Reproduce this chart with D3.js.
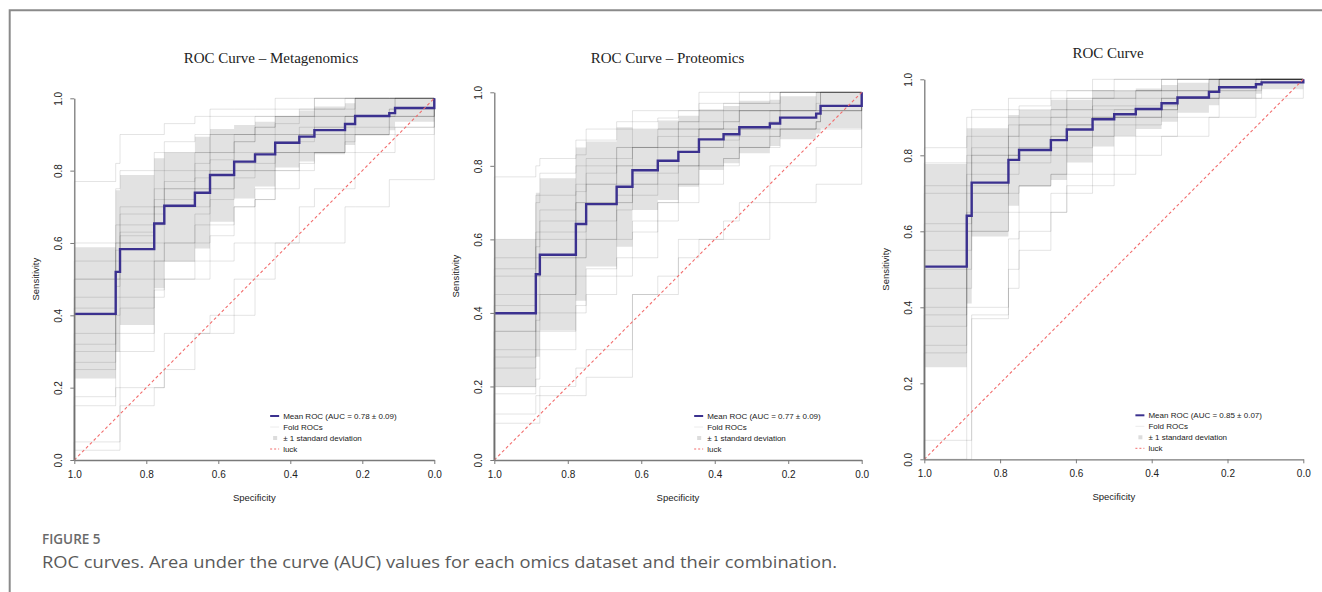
<!DOCTYPE html>
<html lang="en">
<head>
<meta charset="utf-8">
<title>ROC curves</title>
<script src="https://d3js.org/d3.v7.min.js"></script>
<style>
  body { margin: 0; background: #fff; }
  svg { display: block; }
  .tick text { font-family: 'Liberation Sans', Arial, sans-serif; }
</style>
</head>
<body>
<div id="chart"></div>
<script>

// ---- data: Metagenomics ----
var specMeta  = [1, .885, .873, .778, .75, .665, .623, .556, .498, .442, .375, .333, .248, .22, .125, .109];
var meanMeta  = [.404, .52, .583, .654, .703, .739, .788, .825, .845, .877, .894, .912, .929, .951, .959, .973];
var lowMeta   = [.225, .30, .373, .475, .548, .585, .659, .723, .756, .809, .825, .845, .871, .897, .912, .935];
var highMeta  = [.588, .746, .788, .834, .85, .894, .915, .926, .935, .951, .966, .977, .986, 1, 1, 1];
var foldsMeta = [
  [.05, .05, .2, .2, .35, .35, .4, .4, .6, .6, .6, .6, .7, .7, .775, .775],
  [.027, .027, .15, .2, .25, .35, .35, .5, .5, .6, .7, .75, .75, .85, .85, .9],
  [.175, .3, .3, .47, .5, .5, .55, .6, .72, .75, .8, .85, .85, .9, .9, .92],
  [.3, .45, .5, .55, .6, .65, .75, .8, .8, .85, .85, .85, .9, .9, .95, .95],
  [.35, .5, .6, .65, .7, .7, .75, .8, .85, .9, .9, .95, .95, 1, 1, 1],
  [.4, .5, .55, .6, .7, .75, .8, .85, .85, .85, .9, .9, .95, .95, .95, .95],
  [.45, .55, .6, .7, .75, .8, .85, .88, .9, .9, .92, .92, .92, .95, .97, 1],
  [.5, .6, .65, .75, .8, .85, .9, .9, .95, .95, .95, .95, .95, 1, 1, 1],
  [.55, .65, .7, .8, .85, .85, .9, .9, .92, .95, .95, .97, 1, 1, 1, 1],
  [.6, .75, .8, .85, .88, .9, .95, .95, .95, .97, .97, 1, 1, 1, 1, 1],
  [.77, .82, .9, .9, .93, .95, .97, .97, .97, 1, 1, 1, 1, 1, 1, 1],
  [.27, .4, .45, .5, .55, .6, .65, .7, .72, .8, .85, .85, .9, .9, .92, .92],
  [.32, .48, .62, .68, .72, .75, .8, .82, .82, .88, .9, .92, .95, .95, .95, 1],
  [.15, .2, .35, .45, .5, .55, .62, .7, .75, .8, .82, .85, .88, .92, .95, .95],
  [.42, .58, .63, .7, .75, .78, .83, .88, .9, .93, .95, .97, .97, 1, 1, 1],
  [.25, .35, .42, .55, .6, .68, .72, .78, .8, .85, .88, .9, .93, .95, .97, .97],
  [.5, .6, .68, .72, .77, .82, .85, .9, .92, .95, .97, 1, 1, 1, 1, 1]
];

// ---- data: Proteomics ----
var specProt  = [1, .887, .876, .778, .75, .667, .624, .555, .499, .443, .376, .333, .25, .222, .124, .112];
var meanProt  = [.399, .505, .558, .642, .696, .743, .788, .814, .838, .872, .886, .905, .915, .931, .942, .963];
var lowProt   = [.198, .281, .352, .433, .526, .58, .68, .707, .743, .789, .807, .834, .854, .872, .888, .902];
var highProt  = [.60, .727, .766, .85, .866, .905, .899, .923, .936, .954, .963, .977, .98, .989, 1, 1];
var foldsProt = [
  [.1, .1, .175, .175, .225, .225, .45, .45, .6, .6, .6, .6, .7, .7, .75, .75],
  [.125, .175, .2, .25, .3, .3, .45, .5, .55, .6, .65, .7, .8, .8, .85, .85],
  [.2, .3, .35, .4, .45, .5, .55, .65, .7, .75, .8, .85, .85, .9, .9, .9],
  [.3, .4, .45, .55, .6, .7, .75, .75, .8, .85, .85, .9, .9, .95, .95, 1],
  [.35, .45, .5, .6, .65, .7, .75, .8, .85, .9, .9, .9, .95, .95, .95, .95],
  [.4, .5, .55, .65, .7, .75, .8, .85, .85, .9, .9, .95, .95, .95, 1, 1],
  [.45, .55, .6, .7, .75, .8, .85, .85, .9, .9, .95, .95, .95, 1, 1, 1],
  [.5, .6, .65, .75, .8, .85, .85, .9, .9, .92, .92, .95, .95, .95, .97, 1],
  [.55, .7, .72, .8, .82, .85, .9, .9, .92, .95, .95, .97, .97, 1, 1, 1],
  [.6, .72, .78, .83, .87, .9, .92, .93, .95, .97, .97, 1, 1, 1, 1, 1],
  [.77, .8, .82, .87, .9, .92, .95, .95, .95, 1, 1, 1, 1, 1, 1, 1],
  [.25, .35, .4, .5, .52, .6, .65, .7, .75, .8, .82, .85, .9, .9, .92, .95],
  [.35, .5, .55, .62, .7, .72, .78, .8, .8, .85, .87, .88, .88, .9, .92, .95],
  [.18, .22, .3, .42, .5, .55, .62, .7, .75, .8, .82, .85, .88, .9, .92, .95],
  [.42, .58, .62, .7, .75, .8, .85, .85, .88, .9, .92, .95, .95, 1, 1, 1],
  [.28, .38, .45, .55, .6, .68, .72, .78, .8, .85, .88, .9, .92, .95, .95, 1],
  [.52, .62, .68, .73, .78, .82, .85, .88, .92, .95, .97, .97, 1, 1, 1, 1]
];

// ---- data: combined ----
var specComb  = [1, .888, .875, .778, .75, .666, .624, .556, .499, .442, .374, .332, .249, .222, .125, .11];
var meanComb  = [.507, .641, .728, .788, .814, .84, .868, .895, .908, .922, .937, .952, .967, .979, .987, .992];
var lowComb   = [.242, .41, .586, .667, .717, .735, .781, .823, .851, .869, .888, .912, .932, .95, .962, .974];
var highComb  = [.777, .871, .871, .906, .919, .946, .946, .972, .969, .976, .985, .991, 1, 1, 1, 1];
var foldsComb = [
  [0, .4, .4, .45, .55, .65, .72, .72, .75, .8, .85, .85, .9, .9, .95, .95],
  [0, 0, .38, .5, .6, .65, .7, .75, .8, .85, .85, .9, .9, .95, .95, 1],
  [.05, .05, .37, .58, .65, .7, .75, .8, .85, .88, .9, .95, .95, 1, 1, 1],
  [.28, .45, .6, .65, .72, .75, .8, .85, .9, .9, .92, .95, .97, 1, 1, 1],
  [.35, .55, .65, .75, .78, .8, .85, .9, .9, .92, .95, .95, .97, 1, 1, 1],
  [.45, .62, .7, .8, .8, .85, .88, .9, .92, .92, .95, .97, 1, 1, 1, 1],
  [.55, .7, .78, .82, .85, .88, .9, .93, .93, .95, .97, .97, 1, 1, 1, 1],
  [.62, .75, .8, .85, .88, .9, .92, .95, .95, .97, .97, 1, 1, 1, 1, 1],
  [.72, .8, .85, .9, .92, .92, .95, .97, .97, .97, 1, 1, 1, 1, 1, 1],
  [.78, .85, .9, .92, .93, .95, .97, .97, 1, 1, 1, 1, 1, 1, 1, 1],
  [.82, .9, .92, .95, .95, .97, .97, 1, 1, 1, 1, 1, 1, 1, 1, 1],
  [.5, .65, .75, .8, .82, .85, .88, .9, .9, .92, .93, .95, .95, .97, 1, 1],
  [.4, .6, .7, .78, .8, .82, .85, .88, .9, .9, .92, .95, .95, .95, .97, 1],
  [.3, .5, .6, .7, .72, .75, .82, .85, .88, .9, .92, .95, .95, .97, 1, 1],
  [.6, .72, .8, .85, .88, .9, .92, .95, .95, .97, .97, 1, 1, 1, 1, 1],
  [.38, .6, .72, .8, .82, .85, .88, .92, .92, .93, .95, .97, .97, 1, 1, 1],
  [.7, .78, .82, .88, .9, .92, .95, .95, .97, .97, 1, 1, 1, 1, 1, 1]
];

// chance diagonal (specificity, sensitivity)
var luckPts = [[1, 0], [0, 1]];

var titles = ["ROC Curve \u2013 Metagenomics", "ROC Curve \u2013 Proteomics", "ROC Curve"];
var aucLabels = ["Mean ROC (AUC = 0.78 \u00b1 0.09)", "Mean ROC (AUC = 0.77 \u00b1 0.09)", "Mean ROC (AUC = 0.85 \u00b1 0.07)"];
var legendLabels = ["Fold ROCs", "\u00b1 1 standard deviation", "luck"];
var tickVals = [1, .8, .6, .4, .2, 0];

// ---- layout ----
var W = 1322, H = 592;
var colours = { mean: "#3b318f", band: "#e2e2e2", fold: "rgba(0,0,0,0.11)", luck: "#f26d6d", axis: "#7a7a7a", text: "#222" };

var panels = [
  { spec: specMeta, mean: meanMeta, low: lowMeta, high: highMeta, folds: foldsMeta,
    left: 74.3, right: 434.3, top: 98.3, bottom: 460, tx: 271, ty: 63 },
  { spec: specProt, mean: meanProt, low: lowProt, high: highProt, folds: foldsProt,
    left: 494.3, right: 861.7, top: 92.3, bottom: 460, tx: 667.5, ty: 63 },
  { spec: specComb, mean: meanComb, low: lowComb, high: highComb, folds: foldsComb,
    left: 924.3, right: 1303.3, top: 79.3, bottom: 459.3, tx: 1108, ty: 57.5 }
];

var svg = d3.select("#chart").append("svg")
  .attr("width", W).attr("height", H);

// outer frame (top and left rules)
svg.append("path")
  .attr("d", "M9.7," + H + " V10.2 H" + W)
  .attr("fill", "none").attr("stroke", "#8a8a8a").attr("stroke-width", 2);

panels.forEach(function(p, k) {
  var x = d3.scaleLinear().domain([1, 0]).range([p.left, p.right]);
  var y = d3.scaleLinear().domain([0, 1]).range([p.bottom, p.top]);
  var g = svg.append("g");

  // points for a step curve from per-interval values
  function stepPts(vals) {
    var pts = [[1, 0]];
    p.spec.forEach(function(s, i) { pts.push([s, vals[i]]); });
    pts.push([0, 1]);
    return pts;
  }

  var stepLine = d3.line()
    .curve(d3.curveStepAfter)
    .x(function(d) { return x(d[0]); })
    .y(function(d) { return y(d[1]); });

  // std band
  var bandPts = p.spec.map(function(s, i) { return [s, p.low[i], p.high[i]]; });
  bandPts.push([0, p.low[p.low.length - 1], p.high[p.high.length - 1]]);
  g.append("path")
    .datum(bandPts)
    .attr("d", d3.area()
      .curve(d3.curveStepAfter)
      .x(function(d) { return x(d[0]); })
      .y0(function(d) { return y(d[1]); })
      .y1(function(d) { return y(d[2]); }))
    .attr("fill", colours.band);

  // fold ROCs
  g.selectAll("path.fold")
    .data(p.folds)
    .enter().append("path")
    .attr("class", "fold")
    .attr("d", function(f) { return stepLine(stepPts(f)); })
    .attr("fill", "none")
    .attr("stroke", colours.fold)
    .attr("stroke-width", 1);

  // mean ROC
  g.append("path")
    .datum(stepPts(p.mean).slice(1))
    .attr("d", stepLine)
    .attr("fill", "none")
    .attr("stroke", colours.mean)
    .attr("stroke-width", 2.4);

  // luck diagonal, on top
  g.append("path")
    .datum(luckPts)
    .attr("d", d3.line().x(function(d) { return x(d[0]); }).y(function(d) { return y(d[1]); }))
    .attr("fill", "none")
    .attr("stroke", colours.luck).attr("stroke-width", 1.1)
    .attr("stroke-dasharray", "3,2.5");

  // axes
  var xAxis = g.append("g")
    .attr("transform", "translate(0," + p.bottom + ")")
    .call(d3.axisBottom(x).tickValues(tickVals).tickFormat(d3.format(".1f")).tickSize(4).tickSizeOuter(0));
  xAxis.selectAll("text").attr("y", 11).attr("font-size", 10).attr("fill", colours.text);

  var yAxis = g.append("g")
    .attr("transform", "translate(" + p.left + ",0)")
    .call(d3.axisLeft(y).tickValues(tickVals).tickFormat(d3.format(".1f")).tickSize(4).tickSizeOuter(0));
  yAxis.selectAll("text")
    .attr("x", 0).attr("dy", 0)
    .attr("text-anchor", "middle")
    .attr("transform", "translate(-12.5,0) rotate(-90)")
    .attr("font-size", 10).attr("fill", colours.text);

  [xAxis, yAxis].forEach(function(a) {
    a.select(".domain").attr("stroke", colours.axis).attr("stroke-width", 1.3);
    a.selectAll(".tick line").attr("stroke", colours.axis);
  });

  // axis titles
  g.append("text")
    .attr("x", (p.left + p.right) / 2).attr("y", p.bottom + 41)
    .attr("text-anchor", "middle")
    .attr("font-family", "'Liberation Sans', Arial, sans-serif")
    .attr("font-size", 9.5).attr("fill", colours.text)
    .text("Specificity");

  g.append("text")
    .attr("transform", "translate(" + (p.left - 35) + "," + ((p.top + p.bottom) / 2) + ") rotate(-90)")
    .attr("text-anchor", "middle")
    .attr("font-family", "'Liberation Sans', Arial, sans-serif")
    .attr("font-size", 9.5).attr("fill", colours.text)
    .text("Sensitivity");

  // plot title
  g.append("text")
    .attr("x", p.tx).attr("y", p.ty)
    .attr("text-anchor", "middle")
    .attr("font-family", "'Liberation Serif', 'Times New Roman', serif")
    .attr("font-size", 15).attr("fill", colours.text)
    .text(titles[k]);

  // legend
  var lx = p.left + (p.right - p.left) * (k == 2 ? 0.557 : 0.544);
  var ly = p.bottom - 44;
  var leg = g.append("g")
    .attr("font-family", "'Liberation Sans', Arial, sans-serif")
    .attr("font-size", 8).attr("fill", colours.text);
  var labels = [aucLabels[k]].concat(legendLabels);
  labels.forEach(function(t, i) {
    var yy = ly + i * 11;
    if (i == 0) leg.append("line").attr("x1", lx).attr("x2", lx + 9).attr("y1", yy).attr("y2", yy)
      .attr("stroke", colours.mean).attr("stroke-width", 2);
    if (i == 1) leg.append("line").attr("x1", lx).attr("x2", lx + 9).attr("y1", yy).attr("y2", yy)
      .attr("stroke", "#ececec").attr("stroke-width", 1);
    if (i == 2) leg.append("rect").attr("x", lx + 3).attr("y", yy - 2).attr("width", 4).attr("height", 4)
      .attr("fill", "#dcdcdc");
    if (i == 3) leg.append("line").attr("x1", lx).attr("x2", lx + 9).attr("y1", yy).attr("y2", yy)
      .attr("stroke", colours.luck).attr("stroke-width", 1).attr("stroke-dasharray", "2,2");
    leg.append("text").attr("x", lx + 13).attr("y", yy + 3).text(t);
  });
});

// figure caption
svg.append("text")
  .attr("x", 42).attr("y", 544)
  .attr("font-family", "'Open Sans', sans-serif")
  .attr("font-size", 13.5).attr("font-weight", 600)
  .attr("fill", "#6a6a6a")
  .text("FIGURE 5");

svg.append("text")
  .attr("x", 42).attr("y", 568)
  .attr("font-family", "'Open Sans', sans-serif")
  .attr("font-size", 17)
  .attr("textLength", 795).attr("lengthAdjust", "spacingAndGlyphs")
  .attr("fill", "#5a5a5a")
  .text("ROC curves. Area under the curve (AUC) values for each omics dataset and their combination.");

</script>
</body>
</html>
